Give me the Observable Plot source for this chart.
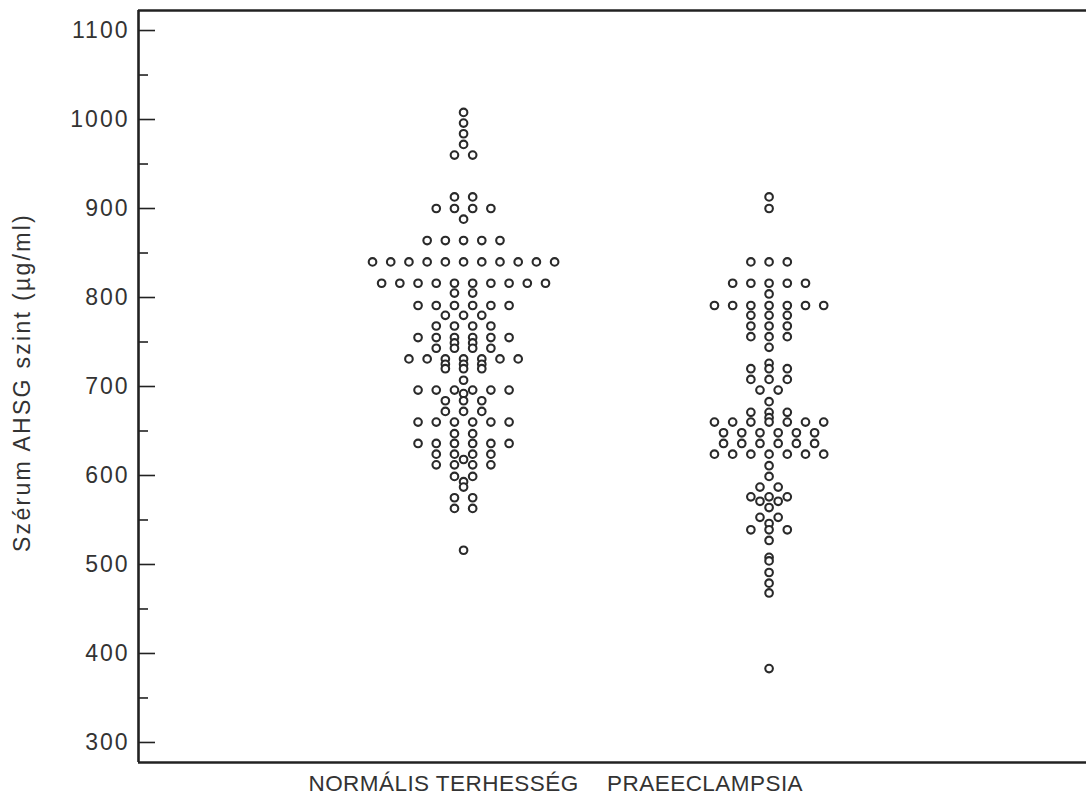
<!DOCTYPE html>
<html>
<head>
<meta charset="utf-8">
<script src="https://cdn.jsdelivr.net/npm/d3@7"></script>
<script src="https://cdn.jsdelivr.net/npm/@observablehq/plot@0.6"></script>
<style>
  body { margin: 0; background: #fff; }
  #chart svg { display: block; }
</style>
</head>
<body>
<div id="chart"></div>
<script>
// ---- data ----
const groups = ["NORMÁLIS TERHESSÉG", "PRAEECLAMPSIA"];

const normalValues = [
  1008, 996, 984, 972,
  960, 960,
  913, 913,
  900, 900, 900, 900,
  888,
  864, 864, 864, 864, 864,
  840, 840, 840, 840, 840, 840, 840, 840, 840, 840, 840,
  816, 816, 816, 816, 816, 816, 816, 816, 816, 816,
  805, 805,
  791, 791, 791, 791, 791, 791,
  780, 780, 780,
  768, 768, 768, 768,
  755, 755, 755, 755, 755, 755,
  749, 749,
  743, 743, 743, 743,
  731, 731, 731, 731, 731, 731, 731,
  725, 725, 725,
  720, 720, 720,
  707,
  696, 696, 696, 696, 696, 696,
  692,
  684, 684, 684,
  672, 672, 672,
  660, 660, 660, 660, 660, 660,
  647, 647,
  636, 636, 636, 636, 636, 636,
  624, 624, 624, 624,
  618,
  612, 612, 612, 612,
  599, 599,
  593,
  587,
  575, 575,
  563, 563,
  516
];

const preeclampsiaValues = [
  913, 900,
  840, 840, 840,
  816, 816, 816, 816, 816,
  804,
  791, 791, 791, 791, 791, 791, 791,
  780, 780, 780,
  768, 768, 768,
  756, 756, 756,
  744,
  726,
  720, 720, 720,
  708, 708, 708,
  696, 696,
  683,
  671, 671, 671,
  665,
  660, 660, 660, 660, 660, 660, 660,
  648, 648, 648, 648, 648, 648,
  636, 636, 636, 636, 636, 636,
  624, 624, 624, 624, 624, 624, 624,
  611,
  599,
  587, 587,
  576, 576, 576,
  571, 571,
  564,
  553, 553,
  546,
  539, 539, 539,
  527,
  508, 504, 491, 479, 468,
  383
];

const yTicks = [300, 400, 500, 600, 700, 800, 900, 1000, 1100];
const yMinorTicks = [350, 450, 550, 650, 750, 850, 950, 1050];
const yLabel = "Szérum AHSG szint (µg/ml)";

// ---- layout (dot-plot rows: equal values spread symmetrically) ----
const W = 1086, H = 799;
const mLeft = 138, mTop = 10, mBottom = 37, mRight = 0;
const yDomain = [277.5, 1122.5];
const xDomain = [-1.064, 2.039];
const step = 0.0596; // horizontal spacing of neighbouring dots, in x units

function layout(values, gi) {
  const counts = d3.rollup(values, v => v.length, v => v);
  const seen = new Map();
  return values.map(v => {
    const n = counts.get(v);
    const i = seen.get(v) || 0;
    seen.set(v, i + 1);
    return {group: groups[gi], value: v, pos: gi + (i - (n - 1) / 2) * step};
  });
}
const points = [...layout(normalValues, 0), ...layout(preeclampsiaValues, 1)];

const font = "'Liberation Sans', Arial, Helvetica, sans-serif";
const ink = "#222";

const chart = Plot.plot({
  width: W,
  height: H,
  marginLeft: mLeft,
  marginTop: mTop,
  marginBottom: mBottom,
  marginRight: mRight,
  style: {fontFamily: font, background: "#fff", color: ink},
  x: {domain: xDomain, axis: null},
  y: {domain: yDomain, axis: null},
  marks: [
    // inward ticks
    Plot.axisY(yTicks, {tickSize: -17, fill: "none", label: null, stroke: ink, strokeWidth: 1.6}),
    Plot.axisY(yMinorTicks, {tickSize: -10, fill: "none", label: null, stroke: ink, strokeWidth: 1.6}),
    // tick labels
    Plot.axisY(yTicks, {tickSize: 0, tickPadding: 9, fontSize: 23, label: null, fill: "#333", tickFormat: d => String(d), className: "ytl"}),
    // frame (left, top, bottom)
    Plot.ruleY([yDomain[0], yDomain[1]], {stroke: ink, strokeWidth: 2.6}),
    Plot.ruleX([xDomain[0]], {stroke: ink, strokeWidth: 2.6}),
    // dots
    Plot.dot(points, {x: "pos", y: "value", r: 3.8, stroke: "#2a2a2a", strokeWidth: 2.1, fill: "white"}),
    // category labels
    Plot.text([groups[0]], {x: 0, y: yDomain[0], text: d => d, dy: 21, dx: -20, fontSize: 22.5, fill: "#333"}),
    Plot.text([groups[1]], {x: 1, y: yDomain[0], text: d => d, dy: 21, dx: -64, fontSize: 22.5, fill: "#333"}),
    // y label
    Plot.text([yLabel], {frameAnchor: "left", textAnchor: "middle", rotate: -90, dx: -116, dy: -4, fontSize: 23, fill: "#333", text: d => d})
  ]
});

d3.select(chart).selectAll("text").filter(function () { return this.textContent === yLabel; })
  .style("letter-spacing", "2.3px");
d3.select(chart).selectAll("text").filter(function () { return groups.includes(this.textContent); })
  .style("letter-spacing", "0.45px");
d3.select(chart).selectAll(".ytl text").style("letter-spacing", "2px");

document.getElementById("chart").append(chart);
</script>
</body>
</html>
